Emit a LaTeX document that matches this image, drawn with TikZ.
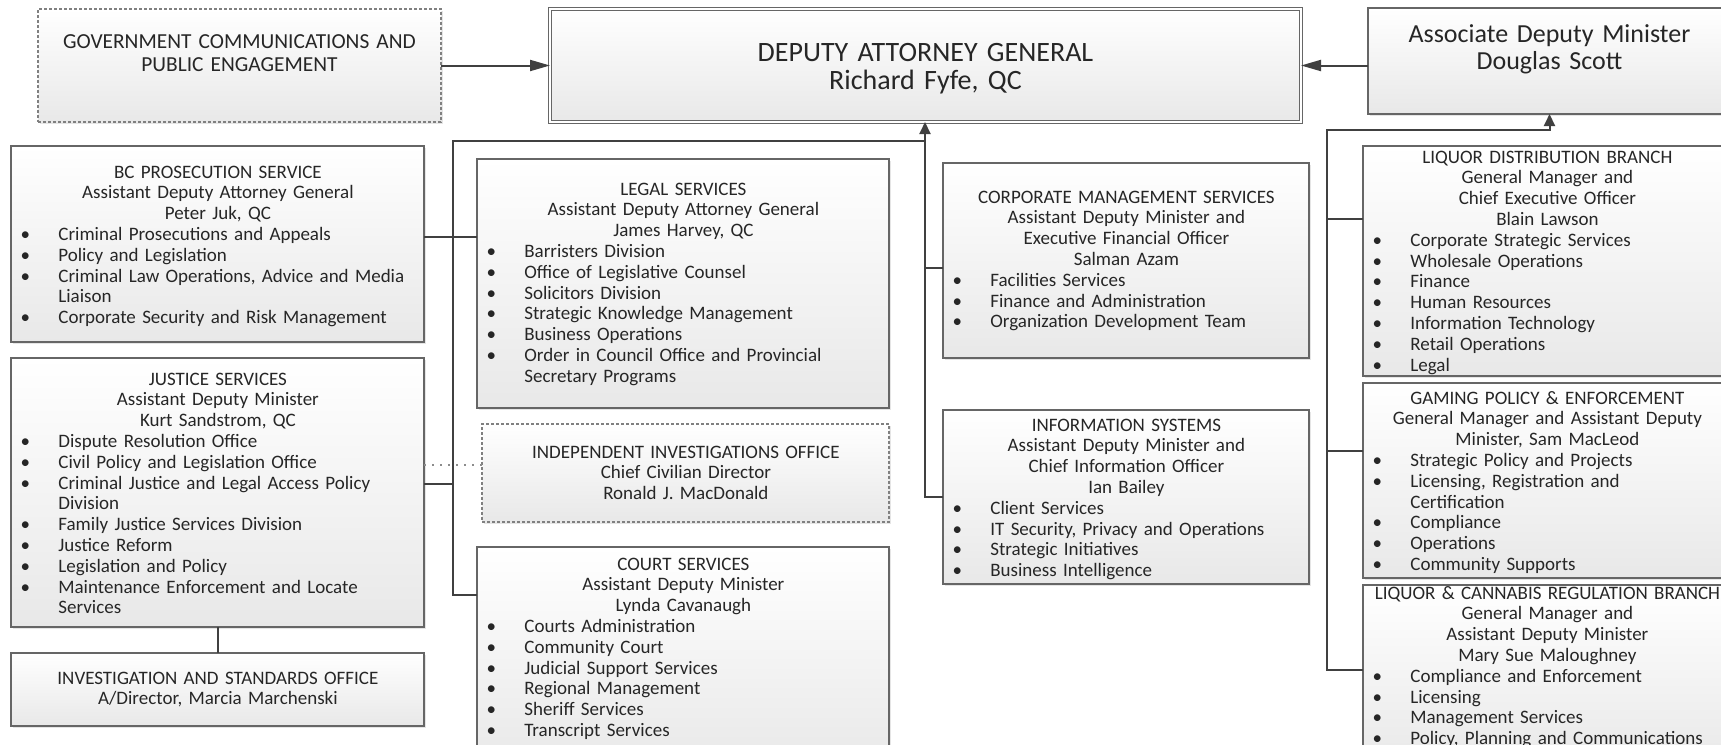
\documentclass[tikz,border=0pt]{standalone}
\usepackage{fontspec}
\setmainfont{Carlito}
\usetikzlibrary{arrows.meta, shadows}

\newcommand{\bul}[1]{\par\hangindent=23.5pt\hangafter=1\noindent\makebox[23.5pt][l]{\hspace{4.6pt}\textbullet}#1}

\begin{document}
\begin{tikzpicture}[x=0.5pt, y=-0.5pt,
    unit/.style={draw=black!60, line width=0.9pt, top color=white, bottom color=black!9, anchor=north west, inner sep=0pt, outer sep=0pt, drop shadow={shadow xshift=0.8pt, shadow yshift=-0.8pt, opacity=0.2}},
    dashunit/.style={unit, draw=black!50, line width=0.6pt, dash pattern=on 1.5pt off 1pt},
    txt/.style={anchor=base west, inner sep=0pt, text=black!85, font=\fontsize{9.5pt}{10.4pt}\selectfont, execute at begin node={\parindent=0pt\parskip=0pt}},
    link/.style={draw=black!75, line width=1pt},
    side/.style={link, -{Triangle[length=10pt, width=5.5pt]}},
    up/.style={link, -{Triangle[length=6pt, width=5.5pt]}},
    dotline/.style={draw=black!45, line width=0.8pt, dash pattern=on 1pt off 3pt}]
    \fill[white] (0,0) rectangle (1721,745);
    \useasboundingbox (0,0) rectangle (1721,745);
    \clip (0,0) rectangle (1721,745);

    \node[dashunit, minimum width=201.5pt, minimum height=56.5pt] (gcpe) at (38,9) {};
    \node[unit, double=white, double distance=1pt, line width=0.7pt, minimum width=375.5pt, minimum height=56.5pt] (dag) at (550,9) {};
    \node[unit, minimum width=181.5pt, minimum height=53pt] (adm) at (1368,8) {};
    \node[txt, anchor=base, text width=201.5pt, font=\fontsize{10.7pt}{11.5pt}\selectfont] (gcpe-t) at (239.5,48) {\centering GOVERNMENT COMMUNICATIONS AND\\PUBLIC ENGAGEMENT\par};
    \node[txt, anchor=base, text width=375.5pt, font=\fontsize{14pt}{14.25pt}\selectfont] (dag-t) at (925.5,61) {\centering DEPUTY ATTORNEY GENERAL\\Richard Fyfe, QC\par};
    \node[txt, anchor=base, text width=181.5pt, font=\fontsize{13pt}{13.5pt}\selectfont] (adm-t) at (1549.5,42) {\centering Associate Deputy Minister\\Douglas Scott\par};

    \node[unit, minimum width=206.5pt, minimum height=98pt] (bcps) at (11,146) {};
    \node[unit, minimum width=206.5pt, minimum height=134.5pt] (js) at (11,358) {};
    \node[unit, minimum width=206.5pt, minimum height=36.5pt] (iso) at (11,653) {};
    \node[unit, minimum width=206pt, minimum height=124.5pt] (legal) at (477,159) {};
    \node[dashunit, minimum width=203.5pt, minimum height=49pt] (iio) at (482,424) {};
    \node[unit, minimum width=206pt, minimum height=111.5pt] (court) at (477,547) {};
    \node[unit, minimum width=183pt, minimum height=97.5pt] (cms) at (943,163) {};
    \node[unit, minimum width=183pt, minimum height=87pt] (is) at (943,410) {};
    \node[unit, minimum width=184pt, minimum height=115pt] (ldb) at (1363,146) {};
    \node[unit, minimum width=184pt, minimum height=97.5pt] (gpe) at (1363,383) {};
    \node[unit, minimum width=184pt, minimum height=92.5pt] (lcrb) at (1363,585) {};

    \node[txt, text width=206.5pt] (bcps-t) at (11,178) {\centering BC PROSECUTION SERVICE\\Assistant Deputy Attorney General\\Peter Juk, QC\par\raggedright
        \bul{Criminal Prosecutions and Appeals}\bul{Policy and Legislation}\bul{Criminal Law Operations, Advice and Media\newline Liaison}\bul{Corporate Security and Risk Management}\par};
    \node[txt, text width=206.5pt] (js-t) at (11,385) {\centering JUSTICE SERVICES\\Assistant Deputy Minister\\Kurt Sandstrom, QC\par\raggedright
        \bul{Dispute Resolution Office}\bul{Civil Policy and Legislation Office}\bul{Criminal Justice and Legal Access Policy\newline Division}\bul{Family Justice Services Division}\bul{Justice Reform}\bul{Legislation and Policy}\bul{Maintenance Enforcement and Locate\newline Services}\par};
    \node[txt, text width=206.5pt] (iso-t) at (11,684) {\centering INVESTIGATION AND STANDARDS OFFICE\\A/Director, Marcia Marchenski\par};
    \node[txt, text width=206pt] (legal-t) at (477,195) {\centering LEGAL SERVICES\\Assistant Deputy Attorney General\\James Harvey, QC\par\raggedright
        \bul{Barristers Division}\bul{Office of Legislative Counsel}\bul{Solicitors Division}\bul{Strategic Knowledge Management}\bul{Business Operations}\bul{Order in Council Office and Provincial\newline Secretary Programs}\par};
    \node[txt, text width=203.5pt] (iio-t) at (482,458) {\centering INDEPENDENT INVESTIGATIONS OFFICE\\Chief Civilian Director\\Ronald J. MacDonald\par};
    \node[txt, text width=206pt] (court-t) at (477,570) {\centering COURT SERVICES\\Assistant Deputy Minister\\Lynda Cavanaugh\par\raggedright
        \bul{Courts Administration}\bul{Community Court}\bul{Judicial Support Services}\bul{Regional Management}\bul{Sheriff Services}\bul{Transcript Services}\par};
    \node[txt, text width=183pt] (cms-t) at (943,203) {\centering CORPORATE MANAGEMENT SERVICES\\Assistant Deputy Minister and\\Executive Financial Officer\\Salman Azam\par\raggedright
        \bul{Facilities Services}\bul{Finance and Administration}\bul{Organization Development Team}\par};
    \node[txt, text width=183pt] (is-t) at (943,431) {\centering INFORMATION SYSTEMS\\Assistant Deputy Minister and\\Chief Information Officer\\Ian Bailey\par\raggedright
        \bul{Client Services}\bul{IT Security, Privacy and Operations}\bul{Strategic Initiatives}\bul{Business Intelligence}\par};
    \node[txt, text width=184pt] (ldb-t) at (1363,163) {\centering LIQUOR DISTRIBUTION BRANCH\\General Manager and\\Chief Executive Officer\\Blain Lawson\par\raggedright
        \bul{Corporate Strategic Services}\bul{Wholesale Operations}\bul{Finance}\bul{Human Resources}\bul{Information Technology}\bul{Retail Operations}\bul{Legal}\par};
    \node[txt, text width=184pt] (gpe-t) at (1363,404) {\centering GAMING POLICY \& ENFORCEMENT\\General Manager and Assistant Deputy\\Minister, Sam MacLeod\par\raggedright
        \bul{Strategic Policy and Projects}\bul{Licensing, Registration and\newline Certification}\bul{Compliance}\bul{Operations}\bul{Community Supports}\par};
    \node[txt, text width=184pt] (lcrb-t) at (1363,599) {\centering LIQUOR \& CANNABIS REGULATION BRANCH\\General Manager and\\Assistant Deputy Minister\\Mary Sue Maloughney\par\raggedright
        \bul{Compliance and Enforcement}\bul{Licensing}\bul{Management Services}\bul{Policy, Planning and Communications}\par};

    \coordinate (lt) at (453,141);
    \coordinate (lb) at (453,595);
    \coordinate (bcj) at (453,237);
    \coordinate (jsj) at (453,484);
    \coordinate (iioj) at (453,465);
    \coordinate (ct) at (925,141);
    \coordinate (cmsj) at (925,268);
    \coordinate (mb) at (925,497);
    \coordinate (rt) at (1327,130);
    \coordinate (ldbj) at (1327,219);
    \coordinate (gpej) at (1327,451);
    \coordinate (rb) at (1327,670);

    \draw[side] (gcpe) -- (dag);
    \draw[side] (adm.west |- dag.east) -- (dag.east);
    \draw[up] (is.west |- mb) -- (mb) -- (dag.south -| mb);
    \draw[link] (cms.west |- cmsj) -- (cmsj);
    \draw[link] (court.west |- lb) -- (lb) -- (lt) -- (ct);
    \draw[link] (bcps.east |- bcj) -- (legal.west |- bcj);
    \draw[link] (js.east |- jsj) -- (jsj);
    \draw[dotline] (js.east |- iioj) -- (iio.west |- iioj);
    \draw[link] (js.south) -- (iso.north);
    \draw[up] (lcrb.west |- rb) -- (rb) -- (rt) -| (adm.south);
    \draw[link] (ldb.west |- ldbj) -- (ldbj);
    \draw[link] (gpe.west |- gpej) -- (gpej);
\end{tikzpicture}
\end{document}
